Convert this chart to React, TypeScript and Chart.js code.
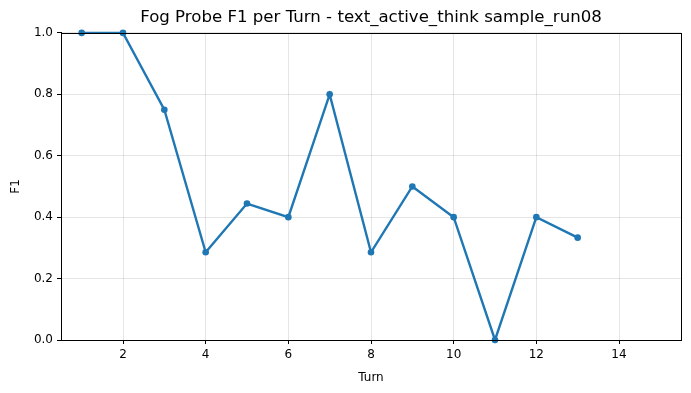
import React, { useEffect, useRef } from "react";
import { Chart, registerables } from "chart.js";

Chart.register(...registerables);

const turns = [1, 2, 3, 4, 5, 6, 7, 8, 9, 10, 11, 12, 13];
const f1Values = [1.0, 1.0, 0.75, 0.2857, 0.4444, 0.4, 0.8, 0.2857, 0.5, 0.4, 0.0, 0.4, 0.3333];
const xTicks = [2, 4, 6, 8, 10, 12, 14];
const yTicks = [0, 0.2, 0.4, 0.6, 0.8, 1.0];

const FONT = "'DejaVu Sans', sans-serif";

const framePlugin = {
  id: "frame",
  afterDraw(chart: any) {
    const { ctx, chartArea } = chart;
    ctx.save();
    ctx.strokeStyle = "#000";
    ctx.lineWidth = 1;
    ctx.strokeRect(
      Math.round(chartArea.left) + 0.5,
      Math.round(chartArea.top) + 0.5,
      Math.round(chartArea.right - chartArea.left),
      Math.round(chartArea.bottom - chartArea.top)
    );
    ctx.restore();
  },
};

export default function App() {
  const ref = useRef<HTMLCanvasElement | null>(null);
  useEffect(() => {
    if (!ref.current) return;
    const chart = new Chart(ref.current, {
      type: "line",
      data: {
        datasets: [
          {
            data: turns.map((t, i) => ({ x: t, y: f1Values[i] })),
            borderColor: "#1f77b4",
            backgroundColor: "#1f77b4",
            borderWidth: 2.4,
            pointRadius: 3.3,
            pointHoverRadius: 3.3,
            pointBorderWidth: 0,
            tension: 0,
            clip: false as any,
          },
        ],
      },
      options: {
        animation: false,
        responsive: false,
        maintainAspectRatio: false,
        layout: { padding: { left: 0, right: 10, top: 0, bottom: 0 } },
        plugins: {
          legend: { display: false },
          tooltip: { enabled: false },
          title: {
            display: true,
            fullSize: false,
            text: "Fog Probe F1 per Turn - text_active_think sample_run08",
            color: "#000",
            font: { family: FONT, size: 16.6, weight: "normal" as any, lineHeight: 1.2 },
            padding: { top: 7.5, bottom: 5.5 },
          },
        },
        scales: {
          x: {
            type: "linear",
            min: 0.5,
            max: 15.5,
            afterBuildTicks: (axis: any) => {
              axis.ticks = xTicks.map((v) => ({ value: v }));
            },
            afterFit: (axis: any) => {
              axis.height = 53;
            },
            ticks: {
              color: "#000",
              font: { family: FONT, size: 12 },
              padding: 4,
              maxRotation: 0,
              autoSkip: false,
            },
            grid: {
              color: "rgba(0,0,0,0.1)",
              tickColor: "#000",
              tickLength: 4,
              drawTicks: true,
            },
            border: { display: true, color: "#000", width: 1 },
            title: {
              display: true,
              text: "Turn",
              color: "#000",
              font: { family: FONT, size: 12 },
              padding: { top: 4, bottom: 8 },
            },
          },
          y: {
            type: "linear",
            min: 0,
            max: 1,
            afterBuildTicks: (axis: any) => {
              axis.ticks = yTicks.map((v) => ({ value: v }));
            },
            afterFit: (axis: any) => {
              axis.width = 61;
            },
            ticks: {
              color: "#000",
              font: { family: FONT, size: 12 },
              padding: 4,
              callback: (v: any) => Number(v).toFixed(1),
            },
            grid: {
              color: "rgba(0,0,0,0.1)",
              tickColor: "#000",
              tickLength: 4,
              drawTicks: true,
            },
            border: { display: true, color: "#000", width: 1 },
            title: {
              display: true,
              text: "F1",
              color: "#000",
              font: { family: FONT, size: 12 },
              padding: { top: 9, bottom: 4 },
            },
          },
        },
      },
      plugins: [framePlugin],
    });
    return () => chart.destroy();
  }, []);
  return (
    <div style={{ position: "fixed", left: 0, top: 0, width: 691, height: 393, background: "#fff" }}>
      <canvas ref={ref} width={691} height={393} style={{ width: 691, height: 393, display: "block" }} />
    </div>
  );
}
